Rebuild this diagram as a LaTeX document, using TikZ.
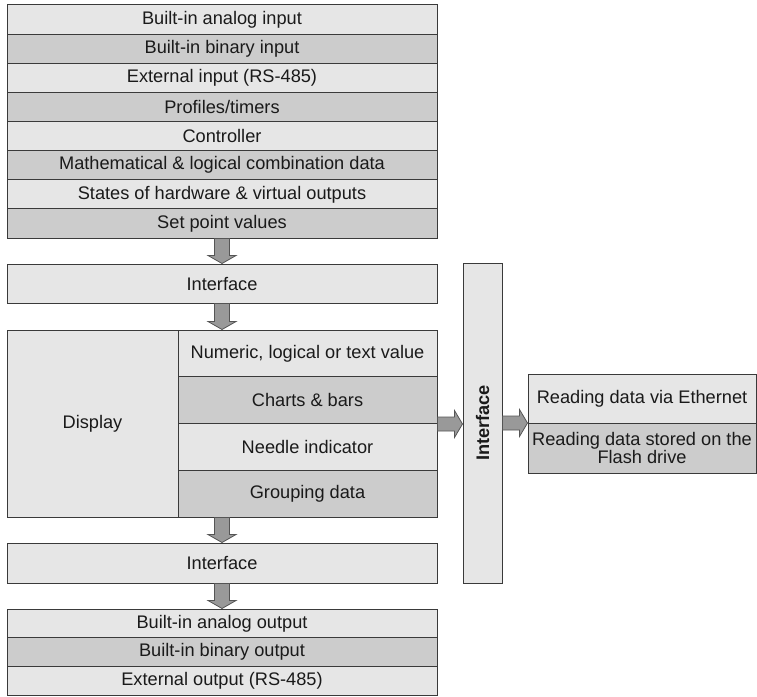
\documentclass[tikz,border=0pt]{standalone}
\usepackage{fontspec}
\setmainfont{Liberation Sans}
\usetikzlibrary{calc}
\definecolor{lightbox}{HTML}{E6E6E6}
\definecolor{darkbox}{HTML}{CCCCCC}
\definecolor{edgecol}{HTML}{3A3A3A}
\definecolor{arrfill}{HTML}{999999}
\definecolor{arredge}{HTML}{555555}
\definecolor{txtcol}{HTML}{1A1A1A}
\newcommand\mainfnt{\fontsize{18.2}{18.4}\selectfont}
\tikzset{
  cell/.style={draw=edgecol, line width=1pt, inner sep=0pt, text=txtcol, font=\mainfnt, align=center},
  lt/.style={fill=lightbox},
  dk/.style={fill=darkbox},
  toprow/.style={cell, minimum width=430pt, minimum height=29.125pt},
  outrow/.style={cell, minimum width=430pt, minimum height=28.67pt},
  disprow/.style={cell, minimum width=259pt, minimum height=46.75pt},
  arrowshape/.style={fill=arrfill, draw=arredge, line width=0.8pt, line join=miter},
}
\newcommand\vconn[2]{\draw[arrowshape] let \p1=(#1), \p2=(#2) in
  (\x2-7.5pt,\y1) -- (\x2+7.5pt,\y1) -- (\x2+7.5pt,\y2+8pt) -- (\x2+14pt,\y2+8pt)
  -- (\x2,\y2) -- (\x2-14pt,\y2+8pt) -- (\x2-7.5pt,\y2+8pt) -- cycle;}
\newcommand\hconn[2]{\draw[arrowshape] let \p1=(#1), \p2=(#2) in
  (\x1,\y1-7pt) -- (\x2-8pt,\y1-7pt) -- (\x2-8pt,\y1-13.5pt) -- (\x2,\y1)
  -- (\x2-8pt,\y1+13.5pt) -- (\x2-8pt,\y1+7pt) -- (\x1,\y1+7pt) -- cycle;}
\begin{document}
\begin{tikzpicture}[x=1pt,y=-1pt]
\useasboundingbox (0,0) rectangle (757,696);
% input stack
\node[toprow, lt] (r1) at (222, 19.56) {Built-in analog input};
\node[toprow, dk] (r2) at (222, 48.69) {Built-in binary input};
\node[toprow, lt] (r3) at (222, 77.81) {External input (RS-485)};
\node[toprow, dk] (r4) at (222,106.94) {Profiles/timers};
\node[toprow, lt] (r5) at (222,136.06) {Controller};
\node[toprow, dk] (r6) at (222,165.19) {Mathematical \& logical combination data};
\node[toprow, lt] (r7) at (222,194.31) {States of hardware \& virtual outputs};
\node[toprow, dk] (r8) at (222,223.44) {Set point values};
% interface 1
\node[cell, lt, minimum width=430pt, minimum height=39pt] (if1) at (222,283.5) {Interface};
% display block
\node[cell, lt, minimum width=171pt, minimum height=187pt] (disp) at (92.5,423.5) {Display};
\node[disprow, lt] (d1) at (307.5,353.375) {Numeric, logical or text value};
\node[disprow, dk] (d2) at (307.5,400.125) {Charts \& bars};
\node[disprow, lt] (d3) at (307.5,446.875) {Needle indicator};
\node[disprow, dk] (d4) at (307.5,493.625) {Grouping data};
% interface 2
\node[cell, lt, minimum width=430pt, minimum height=40pt] (if2) at (222,563) {Interface};
% output stack
\node[outrow, lt] (o1) at (222,623.33) {Built-in analog output};
\node[outrow, dk] (o2) at (222,652) {Built-in binary output};
\node[outrow, lt] (o3) at (222,680.67) {External output (RS-485)};
% vertical interface
\node[cell, lt, minimum width=39pt, minimum height=320pt] (vint) at (482.5,423) {};
\node[rotate=90, font=\mainfnt\bfseries, text=txtcol, inner sep=0pt] (vintlbl) at (vint.center) {Interface};
% right box
\node[cell, lt, minimum width=228pt, minimum height=49pt] (rb1) at (642,398.5) {Reading data via Ethernet};
\node[cell, dk, minimum width=228pt, minimum height=50pt] (rb2) at (642,448) {Reading data stored on the\\Flash drive};
% connectors
\vconn{r8.south}{if1.north}
\vconn{if1.south}{d1.north -| if1.north}
\vconn{d4.south -| if2.north}{if2.north}
\vconn{if2.south}{o1.north}
\hconn{d2.south east}{vint.west}
\hconn{vint.east}{rb1.south west}
\end{tikzpicture}
\end{document}
